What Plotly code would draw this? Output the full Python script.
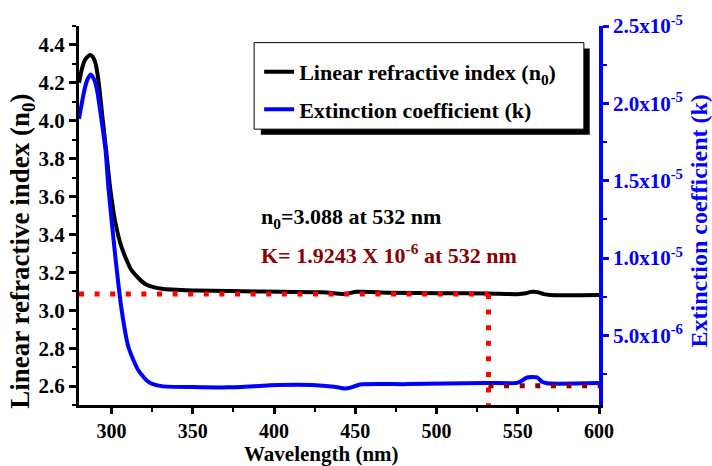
import plotly.graph_objects as go

# ---- data ----
wl_n = [280, 282, 284, 286.8, 289, 290.5, 292.3, 294.4, 296.5, 299.1, 302.2, 306.3, 312.4,
        320.7, 331, 351.5, 392.6, 430, 443, 451, 470, 502.6, 532, 549.8, 555, 558, 562,
        566, 570, 600]
n_vals = [4.20, 4.28, 4.325, 4.347, 4.33, 4.29, 4.19, 4.02, 3.86, 3.65, 3.47, 3.33, 3.21,
          3.139, 3.113, 3.104, 3.099, 3.095, 3.086, 3.097, 3.093, 3.09, 3.088, 3.085, 3.09,
          3.097, 3.096, 3.085, 3.08, 3.08]

wl_k = [280, 283.1, 285, 287.2, 289.5, 291.3, 293.4, 296.4, 298.1, 302.2, 306.3, 310.4,
        316.5, 322.7, 330.9, 350, 371.9, 402.7, 423.3, 437, 443.8, 447, 453, 481.8, 531,
        549.5, 553, 555.7, 561.9, 565, 568, 600]
k_vals = [1.90e-5, 2.075e-5, 2.15e-5, 2.187e-5, 2.15e-5, 2.075e-5, 1.926e-5, 1.69e-5,
          1.454e-5, 1.025e-5, 6.6e-6, 4.25e-6, 2.75e-6, 2.0e-6, 1.72e-6, 1.66e-6, 1.64e-6,
          1.79e-6, 1.79e-6, 1.68e-6, 1.57e-6, 1.62e-6, 1.83e-6, 1.85e-6, 1.93e-6, 1.93e-6,
          2.1e-6, 2.28e-6, 2.28e-6, 2.0e-6, 1.9e-6, 1.92e-6]

wl_mark = 532
n_mark = 3.086
k_guide = 1.75e-6

x_ticks = [300, 350, 400, 450, 500, 550, 600]
y2_ticks = [5e-6, 1e-5, 1.5e-5, 2e-5, 2.5e-5]
y2_text = ["5.0x10<sup>-6</sup>", "1.0x10<sup>-5</sup>", "1.5x10<sup>-5</sup>",
           "2.0x10<sup>-5</sup>", "2.5x10<sup>-5</sup>"]

FONT = "Liberation Serif"
BLUE = "#0000FF"
MAROON = "#8B0000"

fig = go.Figure()
fig.add_trace(go.Scatter(x=wl_n, y=n_vals, mode="lines", name="Linear refractive index (n<sub>0</sub>)",
                         legendgroup="n",
                         line=dict(color="black", width=4, shape="spline", smoothing=0.6)))
fig.add_trace(go.Scatter(x=wl_k, y=k_vals, mode="lines", name="Extinction coefficient (k)",
                         legendgroup="k",
                         yaxis="y2", line=dict(color=BLUE, width=4, shape="spline", smoothing=0.6)))
# guide lines
fig.add_trace(go.Scatter(x=[280, wl_mark], y=[n_mark, n_mark], mode="lines", showlegend=False,
                         line=dict(color="red", width=5, dash="5px,10.6px")))
fig.add_trace(go.Scatter(x=[wl_mark, wl_mark], y=[n_mark, 2.5], mode="lines", showlegend=False,
                         line=dict(color="red", width=5, dash="5px,10.6px")))
fig.add_trace(go.Scatter(x=[wl_mark, 600], y=[k_guide, k_guide], mode="lines", showlegend=False,
                         yaxis="y2", line=dict(color=MAROON, width=5, dash="5px,10.6px")))

L, R, T, B = 79, 598.6, 24, 405
W = R - L
H = B - T
def px(x):
    return (x - L) / W
def py(y):
    return (B - y) / H

tickfont = dict(family=FONT, size=21, color="black", weight="bold")

fig.update_layout(
    width=712, height=466, autosize=False,
    margin=dict(l=L, r=712 - R, t=T, b=466 - B, pad=0),
    plot_bgcolor="white", paper_bgcolor="white",
    font=dict(family=FONT, weight="bold"),
    xaxis=dict(range=[280, 600], tickmode="array", tickvals=x_ticks, ticks="outside",
               ticklen=6, tickwidth=2.5, tickcolor="black", showline=True, linewidth=3,
               linecolor="black", showgrid=False, zeroline=False,
               tickfont=dict(family=FONT, size=20, color="black", weight="bold"),
               minor=dict(tickmode="linear", tick0=275, dtick=25, ticks="outside", ticklen=4,
                          tickwidth=2, tickcolor="black")),
    yaxis=dict(range=[2.5, 4.5], tickmode="linear", tick0=2.6, dtick=0.2, tickformat=".1f",
               ticks="outside", ticklen=7, tickwidth=2.5, tickcolor="black", showline=True,
               linewidth=3, linecolor="black", showgrid=False, zeroline=False, tickfont=tickfont,
               minor=dict(tickmode="linear", tick0=2.5, dtick=0.1, ticks="outside", ticklen=4,
                          tickwidth=2, tickcolor="black")),
    yaxis2=dict(range=[5e-7, 2.5e-5], overlaying="y", side="right", tickmode="array",
                tickvals=y2_ticks, ticktext=y2_text, ticks="outside", ticklen=6, tickwidth=2.5,
                tickcolor=BLUE, showline=True, linewidth=3.5, linecolor=BLUE, showgrid=False,
                zeroline=False, tickfont=dict(family=FONT, size=21, color=BLUE, weight="bold"),
                minor=dict(tickmode="linear", tick0=0, dtick=2.5e-6, ticks="outside", ticklen=4,
                           tickwidth=2, tickcolor=BLUE)),
    legend=dict(x=px(259), y=py(49), xanchor="left", yanchor="top", bgcolor="rgba(0,0,0,0)",
                borderwidth=0, font=dict(family=FONT, size=22, color="black", weight="bold"),
                tracegroupgap=6),
    showlegend=True,
)

# legend box with shadow
fig.add_shape(type="rect", xref="paper", yref="paper", x0=px(260.7), x1=px(589.3),
              y0=py(133.3), y1=py(46.7), fillcolor="black", line=dict(width=0), layer="above")
fig.add_shape(type="rect", xref="paper", yref="paper", x0=px(254), x1=px(583.5),
              y0=py(127.7), y1=py(40.7), fillcolor="white", line=dict(color="black", width=1),
              layer="above")

annots = [
    dict(text="n<sub>0</sub>=3.088 at 532 nm", x=px(259), y=py(216.7), xanchor="left",
         yanchor="middle", font=dict(family=FONT, size=22, color="black", weight="bold")),
    dict(text="K= 1.9243 X 10<sup>-6</sup> at 532 nm", x=px(259), y=py(253.3), xanchor="left",
         yanchor="middle", font=dict(family=FONT, size=22, color=MAROON, weight="bold")),
    dict(text="Wavelength (nm)", x=px(321), y=py(454.5), xanchor="center", yanchor="middle",
         font=dict(family=FONT, size=21, color="black", weight="bold")),
    dict(text="Linear refractive index (n<sub>0</sub>)", x=px(22), y=py(250), textangle=-90,
         xanchor="center", yanchor="middle",
         font=dict(family=FONT, size=27, color="black", weight="bold")),
    dict(text="Extinction coefficient (k)", x=px(698), y=py(220), textangle=-90,
         xanchor="center", yanchor="middle",
         font=dict(family=FONT, size=24, color=BLUE, weight="bold")),
]
for a in annots:
    fig.add_annotation(xref="paper", yref="paper", showarrow=False, **a)

fig.write_html("out.html")
